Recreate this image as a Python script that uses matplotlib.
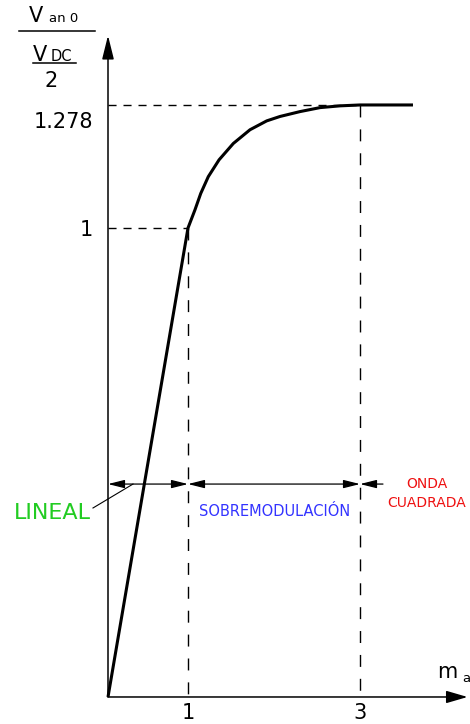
import numpy as np
import matplotlib
matplotlib.use("Agg")
import matplotlib.pyplot as plt

plt.rcParams['font.family'] = ['DejaVu Sans']
plt.rcParams['lines.scale_dashes'] = False

# ---- data ----
ma_curve = [0, 1, 1.081, 1.148, 1.236, 1.361, 1.527, 1.721, 1.915, 2.070,
            2.302, 2.535, 2.767, 3.0, 3.616]
v_curve = [0, 1, 1.041, 1.078, 1.116, 1.154, 1.191, 1.222, 1.242, 1.252,
           1.263, 1.272, 1.276, 1.278, 1.278]
x_ticks = [1, 3]
x_tick_labels = ["1", "3"]
y_ticks = [1, 1.278]
y_tick_labels = ["1", "1.278"]
regions = ["LINEAL", "SOBREMODULACIÓN", "ONDA\nCUADRADA"]
region_colors = ["#22cc22", "#3333ff", "#ee1111"]
v_max = 1.278

# piecewise scales (the drawing is not strictly linear)
def xf(x):
    x = np.asarray(x, float)
    return np.where(x <= 1, x, 1 + (x - 1) * 1.075)
def xi(s):
    s = np.asarray(s, float)
    return np.where(s <= 1, s, 1 + (s - 1) / 1.075)
def yf(y):
    y = np.asarray(y, float)
    return np.where(y <= 1, y, 1 + (y - 1) * 0.9435)
def yi(s):
    s = np.asarray(s, float)
    return np.where(s <= 1, s, 1 + (s - 1) / 0.9435)

fig = plt.figure(figsize=(4.7, 7.24), dpi=100)
ax = fig.add_axes([0, 0, 1, 1])
ax.set_xscale('function', functions=(xf, xi))
ax.set_yscale('function', functions=(yf, yi))
ax.set_xlim(-1.35, 4.279)
ax.set_ylim(-0.0576, 1.5152)
ax.axis('off')

# axes with arrows
ax.annotate('', xy=(0, 1.435), xytext=(0, 0),
            arrowprops=dict(arrowstyle='-|>,head_length=1.45,head_width=0.36',
                            color='black', lw=1.1, shrinkA=0, shrinkB=0,
                            mutation_scale=10))
ax.annotate('', xy=(4.25, 0), xytext=(0, 0),
            arrowprops=dict(arrowstyle='-|>,head_length=1.3,head_width=0.38',
                            color='black', lw=1.1, shrinkA=0, shrinkB=0,
                            mutation_scale=10))

# dashed guides
hdash = dict(color='black', lw=1.0, dashes=(5.8, 5.0))
vdash = dict(color='black', lw=1.0, dashes=(8.6, 8.6))
ax.plot([0, x_ticks[0]], [y_ticks[0], y_ticks[0]], **hdash)
ax.plot([x_ticks[0], x_ticks[0]], [y_ticks[0], 0], **vdash)
ax.plot([0, x_ticks[1]], [v_max, v_max], **hdash)
ax.plot([x_ticks[1], x_ticks[1]], [v_max, 0], **vdash)

# curve
ax.plot(ma_curve, v_curve, color='black', lw=2.2, solid_capstyle='butt',
        solid_joinstyle='round')

# region arrows
ya = 0.454
ap = dict(arrowstyle='<|-|>,head_length=1.0,head_width=0.25', color='black',
          lw=0.9, shrinkA=0, shrinkB=0, mutation_scale=10)
ax.annotate('', xy=(0, ya), xytext=(1, ya), arrowprops=ap)
ax.annotate('', xy=(1, ya), xytext=(3, ya), arrowprops=ap)
ax.annotate('', xy=(3, ya), xytext=(3.267, ya),
            arrowprops=dict(ap, arrowstyle='-|>,head_length=1.0,head_width=0.25'))

# region labels
ax.text(-0.2125, 0.3795, regions[0], color=region_colors[0], fontsize=16,
        ha='right', va='baseline')
ax.plot([-0.1875, 0.3125], [0.403, 0.454], color='black', lw=0.8)
ax.text(2.012, 0.386, regions[1], color=region_colors[1], fontsize=10.5,
        ha='center', va='baseline')
ax.text(3.779, 0.4456, regions[2].split('\n')[0], color=region_colors[2],
        fontsize=10, ha='center', va='baseline')
ax.text(3.779, 0.405, regions[2].split('\n')[1], color=region_colors[2],
        fontsize=10, ha='center', va='baseline')

# tick labels
for xt, lab in zip(x_ticks, x_tick_labels):
    ax.text(xt, -0.0469, lab, fontsize=15, ha='center', va='baseline')
ax.text(-0.19, 0.983, y_tick_labels[0], fontsize=15, ha='right', va='baseline')
ax.text(-0.19, 1.226, y_tick_labels[1], fontsize=15, ha='right', va='baseline')

# y-axis title (fraction)
W, H = 470.0, 724.0
def fx(px):
    return px / W
def fy(py):
    return (H - py) / H
fig.text(fx(29), fy(22), 'V', fontsize=15, ha='left', va='baseline')
fig.text(fx(49), fy(22), 'an 0', fontsize=9.5, ha='left', va='baseline')
fig.add_artist(plt.Line2D([fx(19), fx(95)], [fy(31), fy(31)], color='black', lw=1.1))
fig.text(fx(33), fy(61), 'V', fontsize=15, ha='left', va='baseline')
fig.text(fx(51), fy(61), 'DC', fontsize=10.5, ha='left', va='baseline')
fig.add_artist(plt.Line2D([fx(33), fx(76)], [fy(63), fy(63)], color='black', lw=1.1))
fig.text(fx(51.5), fy(87), '2', fontsize=15, ha='center', va='baseline')

# x-axis title
fig.text(fx(437), fy(678), 'm', fontsize=15, ha='left', va='baseline')
fig.text(fx(462), fy(682), 'a', fontsize=9.5, ha='left', va='baseline')

fig.savefig('out.png', dpi=100)
